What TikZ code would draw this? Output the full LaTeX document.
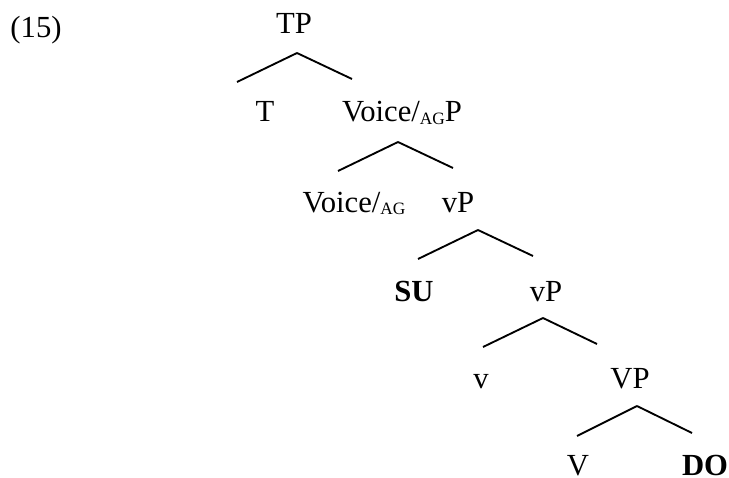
\documentclass[tikz,border=0pt]{standalone}
\usepackage{fontspec}
\setmainfont{Liberation Serif}
\tikzstyle{word}=[anchor=base,inner sep=0pt,font=\fontsize{23}{23}\selectfont]
\tikzstyle{branch}=[line width=1.4pt]
\newcommand{\agsub}{\raisebox{-2.2pt}{\fontsize{13}{13}\selectfont AG}}

\begin{document}
\begin{tikzpicture}[x=0.75pt,y=-0.75pt]
            \useasboundingbox (0,0) rectangle (729,478);
            \node (ex)[word] at (36,38) {(15)};
            \node (tp)[word] at (294,34) {TP};
            \node (t)[word] at (265,122) {T};
            \node (voicep)[word] at (402,122) {Voice/\agsub P};
            \node (voice)[word] at (354,212) {Voice/\agsub};
            \node (vpa)[word] at (458,212) {vP};
            \node (su)[word] at (414,301) {\textbf{SU}};
            \node (vpb)[word] at (546,301) {vP};
            \node (v)[word] at (481,388) {v};
            \node (bigvp)[word] at (630,388) {VP};
            \node (bigv)[word] at (578,475) {V};
            \node (do)[word] at (705,475) {\textbf{DO}};
            \draw [branch] ([shift={(3,19)}]tp.base) -- ([shift={(-28,-40)}]t.base);
            \draw [branch] ([shift={(3,19)}]tp.base) -- ([shift={(-50,-43)}]voicep.base);
            \draw [branch] ([shift={(-4,20)}]voicep.base) -- ([shift={(-16,-41)}]voice.base);
            \draw [branch] ([shift={(-4,20)}]voicep.base) -- ([shift={(-5,-44)}]vpa.base);
            \draw [branch] ([shift={(20,18)}]vpa.base) -- ([shift={(4,-42)}]su.base);
            \draw [branch] ([shift={(20,18)}]vpa.base) -- ([shift={(-13,-45)}]vpb.base);
            \draw [branch] ([shift={(-3,17)}]vpb.base) -- ([shift={(2,-41)}]v.base);
            \draw [branch] ([shift={(-3,17)}]vpb.base) -- ([shift={(-33,-44)}]bigvp.base);
            \draw [branch] ([shift={(7,18)}]bigvp.base) -- ([shift={(-1,-39)}]bigv.base);
            \draw [branch] ([shift={(7,18)}]bigvp.base) -- ([shift={(-13,-42)}]do.base);
        \end{tikzpicture}
\end{document}
